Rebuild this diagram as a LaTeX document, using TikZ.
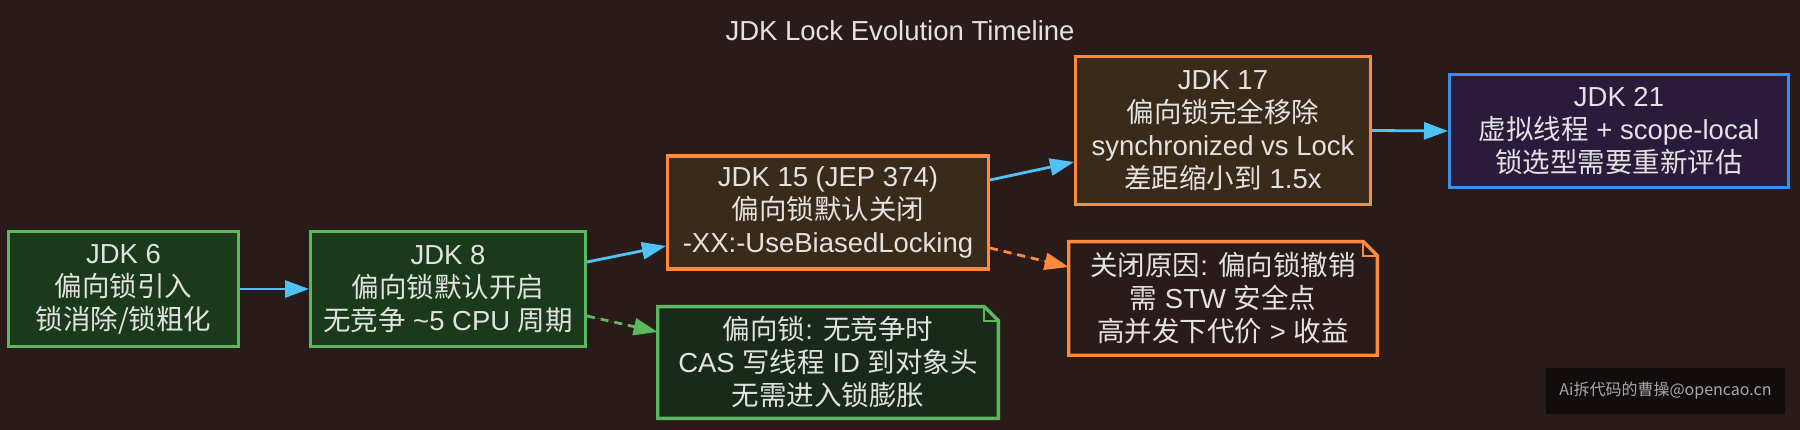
\documentclass[tikz,border=0pt]{standalone}
\usepackage{fontspec}
\setmainfont{Liberation Sans}
\newfontfamily\cjk{Noto Sans CJK SC}
\usetikzlibrary{arrows.meta,calc}
\definecolor{bgc}{HTML}{2A1B1B}
\definecolor{gfill}{HTML}{1B3A1B}
\definecolor{gnotefill}{HTML}{1A2A1A}
\definecolor{gborder}{HTML}{5CB85C}
\definecolor{oborder}{HTML}{FF8A3D}
\definecolor{ofill}{HTML}{3A2A1A}
\definecolor{bborder}{HTML}{3C8DE8}
\definecolor{bfill}{HTML}{2A1A3C}
\definecolor{arrowblue}{HTML}{4FC3F7}
\definecolor{txt}{HTML}{E2E2E2}
\definecolor{wmfill}{HTML}{120C0C}
\definecolor{wmtext}{HTML}{A8A8A8}
\pgfdeclarelayer{back}
\pgfdeclarelayer{mid}
\pgfsetlayers{back,mid,main}
\newcommand\foldnote[3]{%
  \begin{pgfonlayer}{mid}
  \filldraw[draw=#2, fill=#3, line width=3.3pt, line join=miter]
    (#1.north west) -- ([xshift=-14pt]#1.north east) -- ([yshift=-14pt]#1.north east)
    -- (#1.south east) -- (#1.south west) -- cycle;
  \draw[draw=#2, line width=2pt]
    ([xshift=-14pt]#1.north east) -- ([xshift=-14pt,yshift=-14pt]#1.north east)
    -- ([yshift=-14pt]#1.north east);
  \end{pgfonlayer}}
\begin{document}
\begin{tikzpicture}[x=1pt,y=-1pt,
  lbl/.style={align=center, text=txt, font=\fontsize{27.5}{33}\selectfont},
  box/.style={lbl, draw, line width=3.3pt, inner sep=0pt},
  greenbox/.style={box, draw=gborder, fill=gfill},
  orangebox/.style={box, draw=oborder, fill=ofill},
  bluebox/.style={box, draw=bborder, fill=bfill},
  notetext/.style={lbl, inner sep=0pt, outer sep=0pt},
  flow/.style={draw=arrowblue, line width=2.8pt, -{Triangle[length=24pt,width=17pt]}},
  hint/.style={line width=2.8pt, dash pattern=on 8pt off 6pt, -{Triangle[length=24pt,width=17pt]}}
]
\begin{pgfonlayer}{back}
\fill[bgc] (0,0) rectangle (1800,430);
\end{pgfonlayer}
\useasboundingbox (0,0) rectangle (1800,430);

\node[lbl] (title) at (900,31) {JDK Lock Evolution Timeline};

\node[greenbox, minimum width=229.7pt, minimum height=114.7pt] (jdk6) at (123.5,289)
  {JDK 6\\{\cjk 偏向锁引入}\\{\cjk 锁消除/锁粗化}};
\node[greenbox, minimum width=274.7pt, minimum height=114.7pt] (jdk8) at (448,289)
  {JDK 8\\{\cjk 偏向锁默认开启}\\{\cjk 无竞争} \textasciitilde 5 CPU {\cjk 周期}};
\node[orangebox, minimum width=320.7pt, minimum height=113pt] (jdk15) at (828,212.5)
  {JDK 15 (JEP 374)\\{\cjk 偏向锁默认关闭}\\-XX:-UseBiasedLocking};
\node[orangebox, minimum width=294.7pt, minimum height=147.7pt] (jdk17) at (1223,130.5)
  {JDK 17\\{\cjk 偏向锁完全移除}\\synchronized vs Lock\\{\cjk 差距缩小到} 1.5x};
\node[bluebox, minimum width=338.7pt, minimum height=112.7pt] (jdk21) at (1619,131)
  {JDK 21\\{\cjk 虚拟线程} + scope-local\\{\cjk 锁选型需要重新评估}};

\node[notetext, minimum width=340.7pt, minimum height=111.7pt] (gnote) at (828,362.5)
  {{\cjk 偏向锁}: {\cjk 无竞争时}\\CAS {\cjk 写线程} ID {\cjk 到对象头}\\{\cjk 无需进入锁膨胀}};
\foldnote{gnote}{gborder}{gnotefill}
\node[notetext, minimum width=308.7pt, minimum height=113.7pt] (onote) at (1223,298.5)
  {{\cjk 关闭原因}: {\cjk 偏向锁撤销}\\{\cjk 需} STW {\cjk 安全点}\\{\cjk 高并发下代价} > {\cjk 收益}};
\foldnote{onote}{oborder}{bgc}

\node[fill=wmfill, minimum width=239pt, minimum height=46pt, inner sep=0pt,
  text=wmtext, font=\cjk\fontsize{16}{18}\selectfont] (wm) at (1665.5,391)
  {Ai拆代码的曹操@opencao.cn};

\draw[flow] (jdk6.east) -- (jdk8.west);
\draw[flow] ([yshift=27pt]jdk8.east) -- ([yshift=-33.5pt]jdk15.west);
\draw[hint, draw=gborder, fill=gborder] ([yshift=-27pt]jdk8.east) -- ([yshift=30.5pt]gnote.west);
\draw[flow] ([yshift=32.5pt]jdk15.east) -- ([yshift=-31.5pt]jdk17.west);
\draw[hint, draw=oborder, fill=oborder] ([yshift=-35.5pt]jdk15.east) -- ([yshift=31.5pt]onote.west);
\draw[flow] (jdk17.east) -- (jdk21.west);
\end{tikzpicture}
\end{document}
